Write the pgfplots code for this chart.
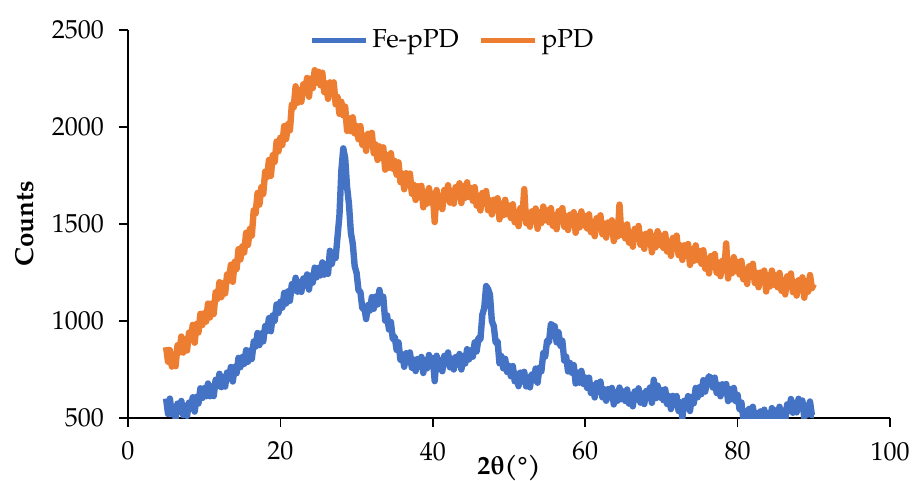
\documentclass[border=0pt]{standalone}
\usepackage{fontspec}
\setmainfont{TeX Gyre Pagella}
\usepackage{pgfplots}
\pgfplotsset{compat=1.18}
\definecolor{xlblue}{HTML}{4472C4}
\definecolor{xlorange}{HTML}{ED7D31}
\begin{document}
\begin{tikzpicture}
\path[use as bounding box] (-64bp,-31.5bp) rectangle (392bp,209bp);
\begin{axis}[
  scale only axis, width=381bp, height=194bp,
  xmin=0, xmax=100, ymin=500, ymax=2500,
  axis x line=bottom, axis y line=left,
  axis line style={-, black, line width=0.75bp},
  xtick={0,20,...,100}, ytick={500,1000,...,2500},
  minor tick num=0,
  tick align=outside, major tick length=4.5bp,
  tick style={black, line width=0.75bp},
  /pgf/number format/assume math mode=true,
  tick label style={font=\fontsize{13bp}{15bp}\selectfont},
  xticklabel style={yshift=-4bp},
  yticklabel style={xshift=-4bp},
  scaled ticks=false,
  yticklabel style={/pgf/number format/1000 sep={}},
  xlabel={\textbf{2θ(°)}},
  ylabel={\textbf{Counts}},
  label style={font=\fontsize{13bp}{15bp}\selectfont},
  x label style={at={(axis description cs:0.5,0)}, anchor=north, yshift=-15bp},
  y label style={at={(axis description cs:-0.135,0.5)}, anchor=center, rotate=0},
  legend style={at={(axis description cs:0.427,0.974)}, anchor=center, draw=none, fill=none,
    font=\fontsize{13bp}{15bp}\selectfont, legend columns=2,
    /tikz/every even column/.append style={column sep=8bp}},
  legend image code/.code={\draw[#1, line width=2.5bp] (0bp,0bp) -- (27bp,0bp);},
  clip=true,
]
\addplot[xlblue, line width=3.2bp, line join=round] coordinates {
(5,600)(5.25,521)(5.5,600)(5.75,520)(6,558)(6.25,499)(6.5,574)(6.75,533)(7,588)(7.25,515)(7.5,564)(7.75,511)(8,579)(8.25,548)(8.5,607)(8.75,533)(9,609)(9.25,575)(9.5,653)(9.75,603)
(10,654)(10.25,612)(10.5,678)(10.75,612)(11,663)(11.25,613)(11.5,697)(11.75,664)(12,728)(12.25,659)(12.5,711)(12.75,662)(13,734)(13.25,703)(13.5,763)(13.75,688)(14,764)(14.25,731)(14.5,810)(14.75,762)
(15,814)(15.25,779)(15.5,850)(15.75,790)(16,848)(16.25,804)(16.5,894)(16.75,868)(17,938)(17.25,876)(17.5,936)(17.75,895)(18,974)(18.25,949)(18.5,1015)(18.75,947)(19,1029)(19.25,1001)(19.5,1085)(19.75,1042)
(20,1099)(20.25,1069)(20.5,1145)(20.75,1090)(21,1153)(21.25,1104)(21.5,1190)(21.75,1158)(22,1223)(22.25,1151)(22.5,1201)(22.75,1150)(23,1219)(23.25,1184)(23.5,1240)(23.75,1162)(24,1234)(24.25,1198)(24.5,1275)(24.75,1225)
(25,1274)(25.25,1235)(25.5,1302)(25.75,1239)(26,1293)(26.25,1243)(26.5,1362)(26.75,1294)(27,1350)(27.25,1325)(27.5,1436)(27.75,1545)(28,1775)(28.25,1890)(28.5,1840)(28.75,1690)(29,1602)(29.25,1455)(29.5,1398)(29.75,1282)
(30,1248)(30.25,1158)(30.5,1150)(30.75,1065)(31,1073)(31.25,1010)(31.5,1082)(31.75,1054)(32,1123)(32.25,1063)(32.5,1126)(32.75,1085)(33,1160)(33.25,1099)(33.5,1125)(33.75,1002)(34,1029)(34.25,956)(34.5,995)(34.75,907)
(35,919)(35.25,851)(35.5,890)(35.75,800)(36,828)(36.25,764)(36.5,834)(36.75,788)(37,838)(37.25,759)(37.5,801)(37.75,742)(38,804)(38.25,764)(38.5,815)(38.75,732)(39,799)(39.25,756)(39.5,825)(39.75,767)
(40,809)(40.25,690)(40.5,821)(40.75,752)(41,798)(41.25,741)(41.5,820)(41.75,781)(42,838)(42.25,761)(42.5,806)(42.75,750)(43,814)(43.25,776)(43.5,830)(43.75,750)(44,819)(44.25,781)(44.5,855)(44.75,802)
(45,849)(45.25,816)(45.5,890)(45.75,843)(46,913)(46.25,905)(46.5,1032)(46.75,1067)(47,1180)(47.25,1165)(47.5,1136)(47.75,1000)(48,974)(48.25,889)(48.5,895)(48.75,782)(49,819)(49.25,756)(49.5,805)(49.75,737)
(50,769)(50.25,715)(50.5,768)(50.75,689)(51,728)(51.25,664)(51.5,734)(51.75,688)(52,738)(52.25,663)(52.5,711)(52.75,658)(53,724)(53.25,694)(53.5,755)(53.75,682)(54,759)(54.25,741)(54.5,835)(54.75,817)
(55,899)(55.25,891)(55.5,985)(55.75,975)(56,973)(56.25,890)(56.5,942)(56.75,872)(57,898)(57.25,796)(57.5,816)(57.75,740)(58,784)(58.25,733)(58.5,773)(58.75,678)(59,734)(59.25,682)(59.5,743)(59.75,676)
(60,709)(60.25,655)(60.5,708)(60.75,629)(61,668)(61.25,606)(61.5,680)(61.75,636)(62,688)(62.25,607)(62.5,648)(62.75,589)(63,649)(63.25,606)(63.5,655)(63.75,570)(64,634)(64.25,589)(64.5,657)(64.75,597)
(65,637)(65.25,588)(65.5,647)(65.75,574)(66,618)(66.25,560)(66.5,637)(66.75,597)(67,653)(67.25,579)(67.5,626)(67.75,572)(68,639)(68.25,603)(68.5,657)(68.75,578)(69,697)(69.25,602)(69.5,667)(69.75,606)
(70,644)(70.25,592)(70.5,648)(70.75,572)(71,613)(71.25,546)(71.5,614)(71.75,566)(72,613)(72.25,536)(72.5,581)(72.75,500)(73,589)(73.25,555)(73.5,613)(73.75,536)(74,609)(74.25,576)(74.5,655)(74.75,607)
(75,659)(75.25,623)(75.5,695)(75.75,636)(76,693)(76.25,715)(76.5,702)(76.75,657)(77,708)(77.25,629)(77.5,671)(77.75,612)(78,674)(78.25,629)(78.5,675)(78.75,587)(79,649)(79.25,596)(79.5,655)(79.75,587)
(80,619)(80.25,546)(80.5,580)(80.75,498)(81,533)(81.25,473)(81.5,547)(81.75,504)(82,558)(82.25,481)(82.5,526)(82.75,470)(83,534)(83.25,493)(83.5,543)(83.75,458)(84,524)(84.25,482)(84.5,551)(84.75,496)
(85,539)(85.25,495)(85.5,558)(85.75,489)(86,538)(86.25,486)(86.5,570)(86.75,536)(87,598)(87.25,527)(87.5,578)(87.75,529)(88,599)(88.25,549)(88.5,590)(88.75,502)(89,564)(89.25,518)(89.5,585)(89.75,515)(90,515)
};
\addlegendentry{Fe-pPD}
\addplot[xlorange, line width=3.2bp, line join=round] coordinates {
(5,865)(5.25,790)(5.5,850)(5.75,765)(6,825)(6.25,767)(6.5,875)(6.75,838)(7,920)(7.25,837)(7.5,905)(7.75,848)(8,940)(8.25,902)(8.5,980)(8.75,888)(9,985)(9.25,941)(9.5,1037)(9.75,979)
(10,1040)(10.25,997)(10.5,1090)(10.75,1018)(11,1090)(11.25,1036)(11.5,1148)(11.75,1114)(12,1200)(12.25,1123)(12.5,1195)(12.75,1142)(13,1240)(13.25,1208)(13.5,1290)(13.75,1202)(14,1305)(14.25,1268)(14.5,1370)(14.75,1317)
(15,1385)(15.25,1353)(15.5,1455)(15.75,1392)(16,1475)(16.25,1440)(16.5,1570)(16.75,1555)(17,1660)(17.25,1600)(17.5,1690)(17.75,1655)(18,1770)(18.25,1742)(18.5,1830)(18.75,1748)(19,1855)(19.25,1820)(19.5,1925)(19.75,1875)
(20,1945)(20.25,1907)(20.5,2005)(20.75,1938)(21,2015)(21.25,1983)(21.5,2115)(21.75,2102)(22,2210)(22.25,2125)(22.5,2190)(22.75,2130)(23,2220)(23.25,2179)(23.5,2253)(23.75,2156)(24,2250)(24.25,2201)(24.5,2293)(24.75,2229)
(25,2285)(25.25,2215)(25.5,2280)(25.75,2180)(26,2225)(26.25,2145)(26.5,2230)(26.75,2170)(27,2230)(27.25,2117)(27.5,2155)(27.75,2068)(28,2130)(28.25,2060)(28.5,2105)(28.75,1980)(29,2045)(29.25,1978)(29.5,2050)(29.75,1967)
(30,2005)(30.25,1937)(30.5,2005)(30.75,1908)(31,1955)(31.25,1877)(31.5,1965)(31.75,1908)(32,1970)(32.25,1865)(32.5,1910)(32.75,1830)(33,1900)(33.25,1840)(33.5,1895)(33.75,1780)(34,1855)(34.25,1790)(34.5,1865)(34.75,1785)
(35,1825)(35.25,1754)(35.5,1818)(35.75,1716)(36,1760)(36.25,1679)(36.5,1762)(36.75,1701)(37,1760)(37.25,1656)(37.5,1702)(37.75,1624)(38,1695)(38.25,1639)(38.5,1697)(38.75,1586)(39,1665)(39.25,1605)(39.5,1685)(39.75,1610)
(40,1655)(40.25,1510)(40.5,1675)(40.75,1588)(41,1645)(41.25,1577)(41.5,1675)(41.75,1628)(42,1700)(42.25,1610)(42.5,1670)(42.75,1605)(43,1690)(43.25,1642)(43.5,1710)(43.75,1608)(44,1695)(44.25,1635)(44.5,1715)(44.75,1640)
(45,1685)(45.25,1620)(45.5,1690)(45.75,1595)(46,1645)(46.25,1570)(46.5,1660)(46.75,1605)(47,1670)(47.25,1571)(47.5,1622)(47.75,1549)(48,1625)(48.25,1571)(48.5,1633)(48.75,1524)(49,1605)(49.25,1545)(49.5,1625)(49.75,1550)
(50,1595)(50.25,1531)(50.5,1602)(50.75,1509)(51,1560)(51.25,1489)(51.5,1582)(51.75,1531)(52,1680)(52.25,1504)(52.5,1558)(52.75,1486)(53,1565)(53.25,1515)(53.5,1580)(53.75,1475)(54,1560)(54.25,1505)(54.5,1590)(54.75,1520)
(55,1570)(55.25,1509)(55.5,1582)(55.75,1491)(56,1545)(56.25,1473)(56.5,1566)(56.75,1514)(57,1582)(57.25,1486)(57.5,1540)(57.75,1469)(58,1548)(58.25,1497)(58.5,1561)(58.75,1455)(59,1540)(59.25,1482)(59.5,1565)(59.75,1493)
(60,1540)(60.25,1477)(60.5,1550)(60.75,1458)(61,1510)(61.25,1437)(61.5,1530)(61.75,1478)(62,1545)(62.25,1448)(62.5,1502)(62.75,1430)(63,1508)(63.25,1456)(63.5,1519)(63.75,1412)(64,1495)(64.25,1436)(64.5,1600)(64.75,1444)
(65,1490)(65.25,1426)(65.5,1498)(65.75,1404)(66,1455)(66.25,1383)(66.5,1475)(66.75,1422)(67,1490)(67.25,1393)(67.5,1445)(67.75,1372)(68,1450)(68.25,1398)(68.5,1461)(68.75,1354)(69,1437)(69.25,1380)(69.5,1463)(69.75,1392)
(70,1440)(70.25,1377)(70.5,1450)(70.75,1358)(71,1410)(71.25,1336)(71.5,1428)(71.75,1374)(72,1440)(72.25,1340)(72.5,1390)(72.75,1315)(73,1390)(73.25,1336)(73.5,1397)(73.75,1289)(74,1370)(74.25,1310)(74.5,1390)(74.75,1315)
(75,1360)(75.25,1295)(75.5,1365)(75.75,1270)(76,1320)(76.25,1245)(76.5,1335)(76.75,1280)(77,1345)(77.25,1249)(77.5,1302)(77.75,1231)(78,1310)(78.25,1260)(78.5,1400)(78.75,1219)(79,1303)(79.25,1246)(79.5,1329)(79.75,1257)
(80,1305)(80.25,1240)(80.5,1310)(80.75,1215)(81,1265)(81.25,1191)(81.5,1282)(81.75,1229)(82,1295)(82.25,1196)(82.5,1248)(82.75,1174)(83,1250)(83.25,1198)(83.5,1260)(83.75,1152)(84,1235)(84.25,1178)(84.5,1260)(84.75,1187)
(85,1235)(85.25,1174)(85.5,1248)(85.75,1156)(86,1210)(86.25,1137)(86.5,1230)(86.75,1178)(87,1245)(87.25,1149)(87.5,1202)(87.75,1131)(88,1210)(88.25,1160)(88.5,1225)(88.75,1120)(89,1205)(89.25,1151)(89.5,1237)(89.75,1169)(90,1190)
};
\addlegendentry{pPD}
\end{axis}
\end{tikzpicture}
\end{document}
